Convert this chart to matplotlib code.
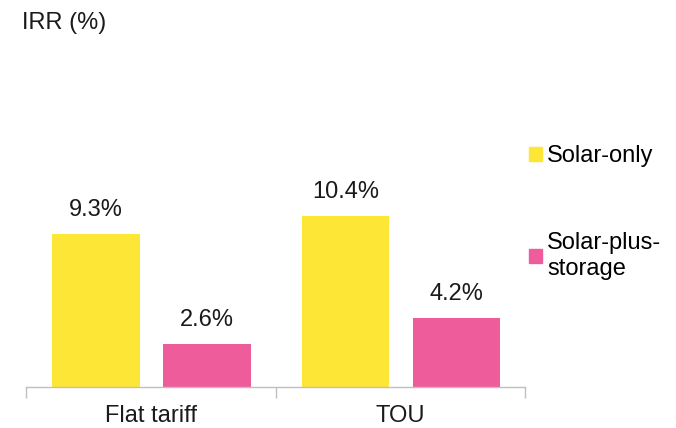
import numpy as np
import matplotlib.pyplot as plt
from matplotlib.patches import Patch

plt.rcParams['font.family'] = ['Liberation Sans', 'DejaVu Sans']

# --- Data ---
categories = ["Flat tariff", "TOU"]
series_names = ["Solar-only", "Solar-plus-\nstorage"]
solar_only = [9.3, 10.4]
solar_storage = [2.6, 4.2]

COLORS = ["#FDE636", "#EF5C9C"]
FS = 17

fig = plt.figure(figsize=(6.76, 4.28), dpi=100)
# axes placed to match reference pixel layout
ax = fig.add_axes([26 / 676, (428 - 386.7) / 428, (525 - 26) / 676, 329 / 428])

x = np.arange(len(categories))
w = 0.35
b1 = ax.bar(x - 0.22, solar_only, width=w, color=COLORS[0])
b2 = ax.bar(x + 0.225, solar_storage, width=w, color=COLORS[1])

for bars, vals in [(b1, solar_only), (b2, solar_storage)]:
    for bar, v in zip(bars, vals):
        ax.annotate(f"{v}%", (bar.get_x() + bar.get_width() / 2, v),
                    xytext=(0, 9), textcoords="offset points",
                    ha="center", va="bottom", fontsize=FS, color="#1a1a1a")

ax.set_xlim(-0.5, 1.5)
ax.set_ylim(0, 20)
ax.set_yticks([])
for s in ["top", "right", "left"]:
    ax.spines[s].set_visible(False)
ax.spines["bottom"].set_color("#bfbfbf")
ax.spines["bottom"].set_linewidth(1.0)

# category separators as ticks
ax.set_xticks([-0.5, 0.5, 1.5])
ax.set_xticklabels([])
ax.tick_params(axis="x", length=8, color="#bfbfbf", width=1.0)
for i, c in enumerate(categories):
    ax.text(i, -0.055, c, transform=ax.get_xaxis_transform(),
            ha="center", va="top", fontsize=FS, color="#1a1a1a")

fig.text(22 / 676, 1 - 23 / 428, "IRR (%)", ha="left", va="center",
         fontsize=FS, color="#1a1a1a")

handles = [Patch(color=COLORS[0]), Patch(color=COLORS[1])]
fig.legend(handles, series_names, loc="upper left",
           bbox_to_anchor=(508 / 676, 1 - 124 / 428), frameon=False,
           fontsize=FS, handlelength=0.55, handleheight=0.55,
           handletextpad=0.2, labelspacing=2.75, alignment="left")

fig.savefig("out.png", dpi=100)
